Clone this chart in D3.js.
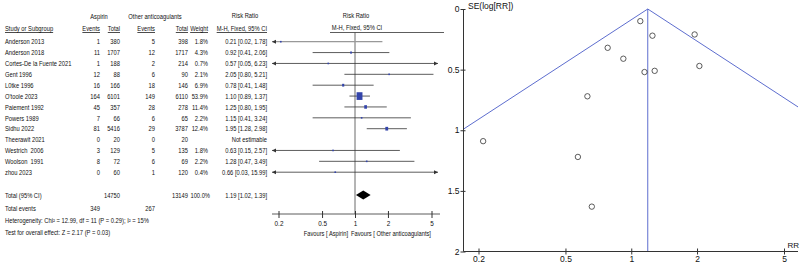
<!DOCTYPE html>
<html>
<head>
<meta charset="utf-8">
<script src="https://cdn.jsdelivr.net/npm/d3@7"></script>
<style>
  body { margin: 0; background: #fff; }
  text { font-family: "Liberation Sans", Arial, sans-serif; fill: #111; }
</style>
</head>
<body>
<svg id="chart" width="800" height="265"></svg>
<script>
// 数据
const studies = ['Anderson 2013', 'Anderson 2018', 'Cortes-De la Fuente 2021', 'Gent 1996', 'L0tke 1996',
  "O'toole 2023", 'Paiement 1992', 'Powers 1989', 'Sidhu 2022', 'Theerawit 2021', 'Westrich  2006',
  'Woolson  1991', 'zhou 2023'];
const aspEvents = [1, 11, 1, 12, 16, 164, 45, 7, 81, 0, 3, 8, 0];
const aspTotal = [380, 1707, 188, 88, 166, 6101, 357, 66, 5416, 20, 129, 72, 60];
const othEvents = [5, 12, 2, 6, 18, 149, 28, 6, 29, 0, 5, 6, 1];
const othTotal = [398, 1717, 214, 90, 146, 6110, 278, 65, 3787, 20, 135, 69, 120];
const weights = [1.8, 4.3, 0.7, 2.1, 6.9, 53.9, 11.4, 2.2, 12.4, null, 1.8, 2.2, 0.4];
const rr = [0.21, 0.92, 0.57, 2.05, 0.78, 1.10, 1.25, 1.15, 1.95, null, 0.63, 1.28, 0.66];
const rrLo = [0.02, 0.41, 0.05, 0.80, 0.41, 0.89, 0.80, 0.41, 1.28, null, 0.15, 0.47, 0.03];
const rrHi = [1.78, 2.06, 6.23, 5.21, 1.48, 1.37, 1.95, 3.24, 2.98, null, 2.57, 3.49, 15.99];
// 漏斗图 SE(log[RR])
const seLogRR = [1.09, 0.41, 1.22, 0.47, 0.32, 0.10, 0.22, 0.52, 0.21, null, 0.72, 0.51, 1.63];

const total = { asp: 14750, oth: 13149, weight: '100.0%', rr: 1.19, lo: 1.02, hi: 1.39 };
const totalEvents = [349, 267];
const forestTicks = [0.2, 0.5, 1, 2, 5];
const funnelXTicks = [0.2, 0.5, 1, 2, 5];
const funnelYTicks = [0, 0.5, 1, 1.5, 2];

const svg = d3.select('#chart');
const ink = '#111';

function txt(x, y, s, anchor = 'start', size = 7.5, sx = 0.77) {
  return svg.append('text')
    .attr('transform', `translate(${x},${y}) scale(${sx},1)`)
    .attr('text-anchor', anchor)
    .style('font-size', size + 'px')
    .style('white-space', 'pre')
    .text(s);
}
const f2 = d => d.toFixed(2);

/* ---------- 森林图表格 ---------- */
const col = { name: 5, aspEv: 100, aspTot: 120, othEv: 155, othTot: 188, w: 208, ci: 267 };
const yRow = d3.scaleLinear().domain([0, studies.length - 1]).range([41.7, 172.2]);

// 表头
txt(99, 19, 'Aspirin', 'middle');
txt(155, 19, 'Other anticoagulants', 'middle');
txt(245, 18, 'Risk Ratio', 'middle');
txt(356, 18, 'Risk Ratio', 'middle');
[[col.name, 'Study or Subgroup', 'start'], [col.aspEv, 'Events', 'end'], [col.aspTot, 'Total', 'end'],
 [col.othEv, 'Events', 'end'], [col.othTot, 'Total', 'end'], [col.w, 'Weight', 'end'],
 [col.ci, 'M-H, Fixed, 95% CI', 'end']].forEach(([x, s, a]) => {
  txt(x, 31, s, a).style('text-decoration', 'underline');
});
txt(357, 30, 'M-H, Fixed, 95% CI', 'middle');
svg.append('line').attr('x1', 330).attr('x2', 444).attr('y1', 32.5).attr('y2', 32.5)
  .attr('stroke', '#333').attr('stroke-width', 0.8);

// 每行
studies.forEach((s, i) => {
  const y = yRow(i) + 2.7;
  txt(col.name, y, s);
  txt(col.aspEv, y, aspEvents[i], 'end');
  txt(col.aspTot, y, aspTotal[i], 'end');
  txt(col.othEv, y, othEvents[i], 'end');
  txt(col.othTot, y, othTotal[i], 'end');
  if (weights[i] != null) txt(col.w, y, weights[i].toFixed(1) + '%', 'end');
  txt(col.ci, y, rr[i] == null ? 'Not estimable' : `${f2(rr[i])} [${f2(rrLo[i])}, ${f2(rrHi[i])}]`, 'end');
});

// 合计
const yTot = 195;
txt(col.name, yTot + 2.7, 'Total (95% CI)');
txt(col.aspTot, yTot + 2.7, total.asp, 'end');
txt(col.othTot, yTot + 2.7, total.oth, 'end');
txt(col.w + 2, yTot + 2.7, total.weight, 'end');
txt(col.ci, yTot + 2.7, `${f2(total.rr)} [${f2(total.lo)}, ${f2(total.hi)}]`, 'end');
txt(col.name, 210.5, 'Total events');
txt(col.aspEv, 210.5, totalEvents[0], 'end');
txt(col.othEv, 210.5, totalEvents[1], 'end');
txt(col.name, 222.5, 'Heterogeneity: Chi² = 12.99, df = 11 (P = 0.29); I² = 15%', 'start', 7, 0.83);
txt(col.name, 234.5, 'Test for overall effect: Z = 2.17 (P = 0.03)', 'start', 7, 0.83);

/* ---------- 森林图 ---------- */
const xF = d3.scaleLog().domain([0.2, 5]).range([278.5, 431.5]);
const fLim = [xF.invert(272), xF.invert(438)];
const axisY = 214;

svg.append('line').attr('x1', xF(1)).attr('x2', xF(1)).attr('y1', 32.5).attr('y2', axisY)
  .attr('stroke', '#444').attr('stroke-width', 0.8);

function arrow(x, y, dir) {
  svg.append('path')
    .attr('d', `M${x},${y}L${x - dir * 4},${y - 2}L${x - dir * 4},${y + 2}Z`)
    .attr('fill', '#333');
}

studies.forEach((s, i) => {
  if (rr[i] == null) return;
  const y = yRow(i);
  const lo = Math.max(rrLo[i], fLim[0]);
  const hi = Math.min(rrHi[i], fLim[1]);
  svg.append('line')
    .attr('x1', xF(lo)).attr('x2', xF(hi)).attr('y1', y).attr('y2', y)
    .attr('stroke', i === 0 ? '#999' : '#333').attr('stroke-width', i === 0 ? 1.2 : 0.8);
  if (rrLo[i] < fLim[0]) arrow(xF(fLim[0]), y, -1);
  if (rrHi[i] > fLim[1]) arrow(xF(fLim[1]), y, 1);
  const w = Math.max(1.6, 0.8 * Math.sqrt(weights[i]));
  const h = Math.max(1.6, 1.05 * Math.sqrt(weights[i]));
  svg.append('rect')
    .attr('x', xF(rr[i]) - w / 2).attr('y', y - h / 2)
    .attr('width', w).attr('height', h)
    .attr('fill', '#3344aa');
});

// 菱形
svg.append('path')
  .attr('d', `M${xF(total.lo)},${yTot}L${xF(total.rr)},${yTot - 4.5}L${xF(total.hi)},${yTot}L${xF(total.rr)},${yTot + 4.5}Z`)
  .attr('fill', '#000');

// 坐标轴
svg.append('line').attr('x1', 272).attr('x2', 440).attr('y1', axisY).attr('y2', axisY)
  .attr('stroke', '#333').attr('stroke-width', 0.8);
const fx = svg.append('g').attr('transform', `translate(0,${axisY})`)
  .call(d3.axisBottom(xF).tickValues(forestTicks).tickFormat(d => d).tickSize(4));
fx.select('.domain').remove();
fx.selectAll('.tick line').attr('y1', -3).attr('stroke', '#333');
fx.selectAll('.tick text').attr('dy', 0).attr('y', 12)
  .style('font-family', '"Liberation Sans", Arial, sans-serif').style('font-size', '7.5px')
  .attr('fill', ink).attr('transform', 'scale(0.85,1)')
  .each(function(d) { d3.select(this).attr('x', 0); });
txt(348, 236, 'Favours [ Aspirin]', 'end', 7, 0.82);
txt(351, 236, 'Favours [ Other anticoagulants]', 'start', 7, 0.82);

/* ---------- 漏斗图 ---------- */
const xR = d3.scaleLog().domain([0.2, 5]).range([478.5, 784]);
const yR = d3.scaleLinear().domain([0, 2]).range([9, 251.5]);
const pX = [463.5, 798];
const pooled = total.rr;
const blue = '#4b5cc8';

svg.append('clipPath').attr('id', 'fclip').append('rect')
  .attr('x', pX[0]).attr('y', 0).attr('width', pX[1] - pX[0]).attr('height', yR(2));
const fg = svg.append('g').attr('clip-path', 'url(#fclip)');
[-1, 1].forEach(sgn => {
  fg.append('line')
    .attr('x1', xR(pooled)).attr('y1', yR(0))
    .attr('x2', xR(pooled * Math.exp(sgn * 1.96 * 2))).attr('y2', yR(2))
    .attr('stroke', blue).attr('stroke-width', 0.9);
});
fg.append('line').attr('x1', xR(pooled)).attr('x2', xR(pooled)).attr('y1', yR(0)).attr('y2', yR(2))
  .attr('stroke', blue).attr('stroke-width', 0.9);

studies.forEach((s, i) => {
  if (seLogRR[i] == null) return;
  svg.append('circle')
    .attr('cx', xR(rr[i])).attr('cy', yR(seLogRR[i])).attr('r', 2.7)
    .attr('fill', 'none').attr('stroke', '#333').attr('stroke-width', 0.8);
});

// 轴
const ry = svg.append('g').attr('transform', `translate(${pX[0]},0)`)
  .call(d3.axisLeft(yR).tickValues(funnelYTicks).tickFormat(d => d).tickSize(3));
ry.select('.domain').attr('d', `M0,${yR(0)}V${yR(2)}`).attr('stroke', '#333');
ry.selectAll('.tick line').attr('x2', -3).attr('x1', 2).attr('stroke', '#333');
ry.selectAll('.tick text').attr('x', -4)
  .style('font-family', '"Liberation Sans", Arial, sans-serif').style('font-size', '8.5px').attr('fill', ink);

const rx = svg.append('g').attr('transform', `translate(0,${yR(2)})`)
  .call(d3.axisBottom(xR).tickValues(funnelXTicks).tickFormat(d => d).tickSize(3));
rx.select('.domain').attr('d', `M${pX[0]},0H${pX[1]}`).attr('stroke', '#333');
rx.selectAll('.tick line').attr('y1', -3).attr('stroke', '#333');
rx.selectAll('.tick text').attr('y', 4)
  .style('font-family', '"Liberation Sans", Arial, sans-serif').style('font-size', '8.5px').attr('fill', ink);

txt(468, 9, 'SE(log[RR])', 'start', 8.5, 1);
txt(799, 248, 'RR', 'end', 8, 1);
</script>
</body>
</html>
